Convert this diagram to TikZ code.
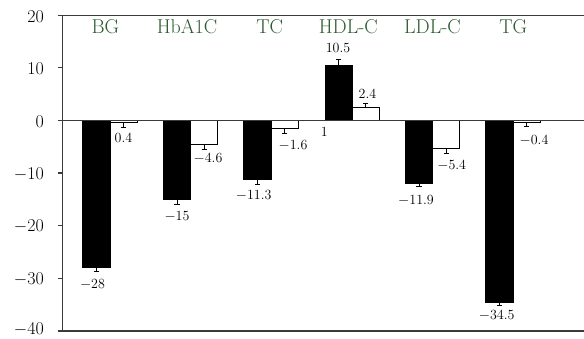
\documentclass[tikz,border=0pt]{standalone}
\definecolor{catgreen}{HTML}{2B5A2E}
\definecolor{axisgray}{HTML}{3A3A3A}
\tikzset{
  axisline/.style={draw=axisgray, line width=1.2pt},
  blackbar/.style={fill=black, draw=black, line width=0.8pt},
  whitebar/.style={fill=white, draw=black, line width=0.8pt},
  errbar/.style={draw=black, line width=1pt},
  catlabel/.style={text=catgreen, font=\fontsize{20}{20}\selectfont, anchor=base, inner sep=0pt},
  vallabel/.style={font=\fontsize{14}{14}\selectfont, inner sep=0pt},
  ticklabel/.style={font=\fontsize{18}{18}\selectfont, anchor=east, inner sep=0pt},
}
\begin{document}
\begin{tikzpicture}[x=1pt,y=-1pt]
\useasboundingbox (0,0) rectangle (584,339);
\def\yz{120.3}
\def\sc{5.27}
% black bars
\foreach \xl/\v/\e in {82.7/-28/3.5, 163.3/-15/5.5, 243.7/-11.3/4.3, 325/10.5/-5.7, 405.3/-11.9/3.3, 485.7/-34.5/3.4} {
  \draw[blackbar] ({\xl},{\yz}) rectangle ({\xl+27.4},{\yz-\sc*\v});
  \draw[errbar] ({\xl+13.7},{\yz-\sc*\v}) -- ++(0,{\e}) ++(-2.6,0) -- ++(5.2,0);
}
% white bars
\foreach \xl/\v/\e in {110.1/-0.4/4.6, 190.7/-4.6/4.5, 271.1/-1.6/4.6, 352.4/2.4/-4.4, 432.7/-5.4/4.4, 513.1/-0.4/3.8} {
  \draw[whitebar] ({\xl},{\yz}) rectangle ({\xl+26.8},{\yz-\sc*\v});
  \draw[errbar] ({\xl+13.4},{\yz-\sc*\v}) -- ++(0,{\e}) ++(-2.6,0) -- ++(5.2,0);
}
% axes
\draw[axisline] (62.5,15.3) -- (62.5,331);
\draw[axisline] (57.5,15.3) -- (584,15.3);
\draw[axisline] (57.5,\yz) -- (584,\yz);
\draw[axisline] (57.5,331) -- (584,331);
\draw[axisline] (57.5,67.6) -- (62.5,67.6);
\draw[axisline] (57.5,173.0) -- (62.5,173.0);
\draw[axisline] (57.5,225.7) -- (62.5,225.7);
\draw[axisline] (57.5,278.4) -- (62.5,278.4);
% tick labels
\node[ticklabel] (t20) at (44,16.3) {20};
\node[ticklabel] (t10) at (44,68.6) {10};
\node[ticklabel] (t0) at (44,121.3) {0};
\node[ticklabel] (tm10) at (44,174) {$-$10};
\node[ticklabel] (tm20) at (44,226.7) {$-$20};
\node[ticklabel] (tm30) at (44,279.4) {$-$30};
\node[ticklabel] (tm40) at (44,329.5) {$-$40};
% category labels
\node[catlabel] (cBG) at (105.3,34) {BG};
\node[catlabel] (cHb) at (187,34) {HbA1C};
\node[catlabel] (cTC) at (269.7,34) {TC};
\node[catlabel] (cHDL) at (348.3,34) {HDL-C};
\node[catlabel] (cLDL) at (432.5,34) {LDL-C};
\node[catlabel] (cTG) at (513.3,34) {TG};
% value labels
\node[vallabel] (v1) at (123.5,137.7) {0.4};
\node[vallabel] (v2) at (92.5,284.3) {$-$28};
\node[vallabel] (v3) at (208,158.7) {$-$4.6};
\node[vallabel] (v4) at (177,216.7) {$-$15};
\node[vallabel] (v5) at (253.7,195) {$-$11.3};
\node[vallabel] (v6) at (293,145) {$-$1.6};
\node[vallabel] (v7) at (324.3,132.3) {1};
\node[vallabel] (v8) at (338,48.3) {10.5};
\node[vallabel] (v9) at (367.5,94) {2.4};
\node[vallabel] (v10) at (451.7,165) {$-$5.4};
\node[vallabel] (v11) at (416,200.7) {$-$11.9};
\node[vallabel] (v12) at (534,140) {$-$0.4};
\node[vallabel] (v13) at (496.7,315.7) {$-$34.5};
\end{tikzpicture}
\end{document}
